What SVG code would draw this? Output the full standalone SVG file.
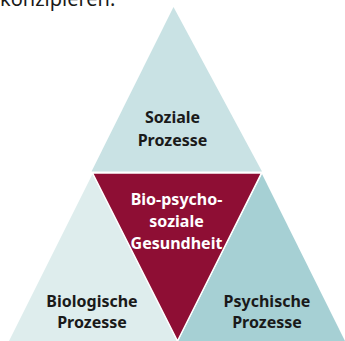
<svg xmlns="http://www.w3.org/2000/svg" width="345" height="341" viewBox="0 0 345 341">
<style>
.lbl{font-family:"Noto Sans","Open Sans",sans-serif;font-weight:700;font-size:16px;text-anchor:middle;fill:#1a1a1a}
.w{fill:#ffffff}
.intro{font-family:"Noto Sans","Open Sans",sans-serif;font-size:20px;fill:#1a1a1a}
</style>
<rect width="345" height="341" fill="#ffffff"/>
<text class="intro" x="0" y="6">konzipieren.</text>
<g id="soziale">
<polygon points="173.5,7 91.5,171.5 262,171.5" fill="#c9e2e4"/>
<text class="lbl" x="172.5" y="123">Soziale</text>
<text class="lbl" x="172.5" y="146">Prozesse</text>
</g>
<g id="biologische">
<polygon points="92.5,174 9,341 177,341" fill="#deeded"/>
<text class="lbl" x="92" y="306.5">Biologische</text>
<text class="lbl" x="92" y="327.5">Prozesse</text>
</g>
<g id="psychische">
<polygon points="262,174 178,341 345,341" fill="#a6d0d4"/>
<text class="lbl" x="267" y="306.5">Psychische</text>
<text class="lbl" x="267" y="327.5">Prozesse</text>
</g>
<g id="gesundheit">
<polygon points="92.5,173 261.5,173 177.5,341" fill="#8e0e34" stroke="#ffffff" stroke-width="1.5" stroke-linejoin="miter"/>
<text class="lbl w" x="176.5" y="205">Bio-psycho-</text>
<text class="lbl w" x="176.5" y="227">soziale</text>
<text class="lbl w" x="176.5" y="248.5">Gesundheit</text>
</g>
<g id="connectors"/>
</svg>
